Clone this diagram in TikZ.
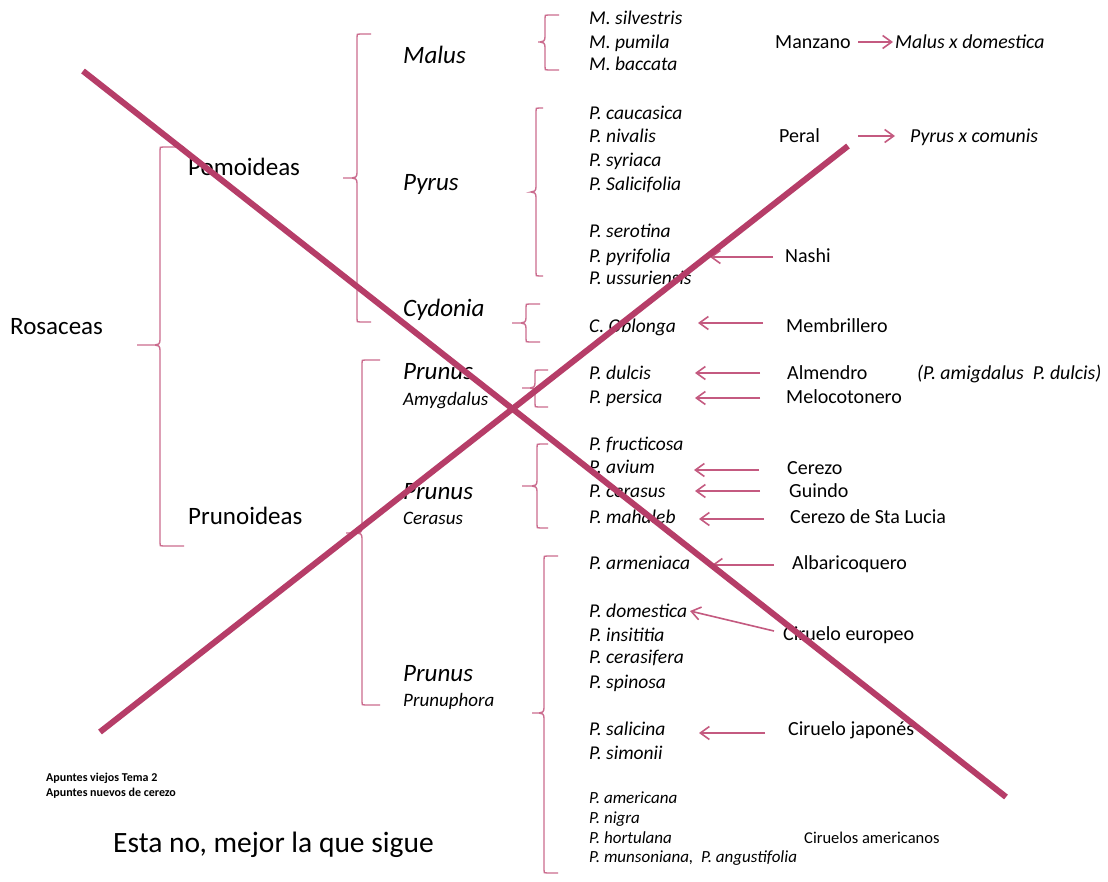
\documentclass[tikz,border=0pt]{standalone}
\usepackage{fontspec}
\setmainfont{Carlito}
\usetikzlibrary{arrows.meta}
\definecolor{xcol}{HTML}{B63D68}
\definecolor{bcol}{HTML}{CB6C8E}
\definecolor{acol}{HTML}{C45A80}
\newcommand{\mybrace}[6]{% X, top, tip y, bottom, tip depth, end length
  \draw[bracestyle] (#1+#6,#2) -- (#1+3,#2) .. controls (#1,#2) .. (#1,#2+3)
    -- (#1,#3-5) .. controls (#1,#3-1) and (#1-2,#3) .. (#1-5,#3) -- (#1-#5,#3)
    (#1-5,#3) .. controls (#1-2,#3) and (#1,#3+1) .. (#1,#3+5)
    -- (#1,#4-3) .. controls (#1,#4) .. (#1+3,#4) -- (#1+#6,#4);}
\tikzset{
  every node/.style={inner sep=0pt, anchor=west, text height=0pt, text depth=0pt},
  sub/.style={font=\fontsize{25}{30}\selectfont, yshift=-8pt},
  gen/.style={font=\fontsize{25}{30}\selectfont\itshape, yshift=-8pt},
  subgen/.style={font=\fontsize{19}{23}\selectfont\itshape, yshift=-6pt},
  sp/.style={font=\fontsize{19.5}{23}\selectfont\itshape, yshift=-6.3pt},
  spsmall/.style={font=\fontsize{17}{20}\selectfont\itshape, yshift=-5.5pt},
  vern/.style={font=\fontsize{20}{24}\selectfont, yshift=-6.5pt},
  vernit/.style={font=\fontsize{19.8}{24}\selectfont\itshape, yshift=-6.4pt},
  vernsmall/.style={font=\fontsize{16.5}{20}\selectfont, yshift=-5.3pt},
  note/.style={font=\fontsize{12}{14}\selectfont\bfseries, yshift=-4pt},
  big/.style={font=\fontsize{29.5}{34}\selectfont, yshift=-9.5pt},
  bracestyle/.style={draw=bcol, line width=1.4pt},
  arr/.style={draw=acol, line width=1.6pt, -{Straight Barb[length=9pt,width=13pt,line width=1.6pt]}},
  cross/.style={draw=xcol, line width=6pt}
}
\begin{document}
\begin{tikzpicture}[x=1pt,y=-1pt]
\useasboundingbox (0,0) rectangle (1108,882);
\fill[white] (0,0) rectangle (1108,882);

% ---- level labels
\node[sub] (ros) at (10,327) {Rosaceas};
\node[sub] (pom) at (188,168) {Pomoideas};
\node[sub] (pru) at (188,516) {Prunoideas};

\node[gen] (malus) at (403,56) {Malus};
\node[gen] (pyrus) at (403,183) {Pyrus};
\node[gen] (cyd) at (403,309) {Cydonia};
\node[gen] (prA) at (403,372) {Prunus};
\node[subgen] (amy) at (403,399) {Amygdalus};
\node[gen] (prC) at (403,491) {Prunus};
\node[subgen] (cers) at (403,518) {Cerasus};
\node[gen] (prP) at (403,673) {Prunus};
\node[subgen] (prph) at (403,700) {Prunuphora};

% ---- species
\node[sp] (msil) at (589,18) {M. silvestris};
\node[sp] (mpum) at (589,42) {M. pumila};
\node[sp] (mbac) at (589,64) {M. baccata};
\node[sp] (pcau) at (589,113) {P. caucasica};
\node[sp] (pniv) at (589,136) {P. nivalis};
\node[sp] (psyr) at (589,160) {P. syriaca};
\node[sp] (psal) at (589,184) {P. Salicifolia};
\node[sp] (pser) at (589,231) {P. serotina};
\node[sp] (ppyr) at (589,256) {P. pyrifolia};
\node[sp] (puss) at (589,278) {P. ussuriensis};
\node[sp] (cobl) at (589,326) {C. Oblonga};
\node[sp] (pdul) at (589,373) {P. dulcis};
\node[sp] (pper) at (589,397) {P. persica};
\node[sp] (pfru) at (589,444) {P. fructicosa};
\node[sp] (pavi) at (589,467) {P. avium};
\node[sp] (pcer) at (589,491) {P. cerasus};
\node[sp] (pmah) at (589,517) {P. mahaleb};
\node[sp] (parm) at (589,563) {P. armeniaca};
\node[sp] (pdom) at (589,611) {P. domestica};
\node[sp] (pins) at (589,635) {P. insititia};
\node[sp] (pcsf) at (589,657) {P. cerasifera};
\node[sp] (pspi) at (589,682) {P. spinosa};
\node[sp] (psli) at (589,729) {P. salicina};
\node[sp] (psim) at (589,753) {P. simonii};
\node[spsmall] (pame) at (589,798) {P. americana};
\node[spsmall] (pnig) at (589,818) {P. nigra};
\node[spsmall] (phor) at (589,838) {P. hortulana};
\node[spsmall] (pmun) at (589,857) {P. munsoniana,\ \ P. angustifolia};

% ---- vernacular names
\node[vern] (manz) at (775,42) {Manzano};
\node[vernit] (mdom) at (895,42) {Malus x domestica};
\node[vern] (peral) at (779,136) {Peral};
\node[vernit] (pcom) at (910,136) {Pyrus x comunis};
\node[vern] (nashi) at (785,256) {Nashi};
\node[vern] (membr) at (786,326) {Membrillero};
\node[vern] (almen) at (787,373) {Almendro};
\node[vernit] (amig) at (917,373) {(P. amigdalus\ \ P. dulcis)};
\node[vern] (meloc) at (786,397) {Melocotonero};
\node[vern] (cerez) at (787,468) {Cerezo};
\node[vern] (guind) at (789,491) {Guindo};
\node[vern] (stal) at (790,517) {Cerezo de Sta Lucia};
\node[vern] (albar) at (792,563) {Albaricoquero};
\node[vern] (cieu) at (783,634) {Ciruelo europeo};
\node[vern] (cija) at (788,729) {Ciruelo japonés};
\node[vernsmall] (ciam) at (804,838) {Ciruelos americanos};

% ---- notes
\node[note] (n1) at (46,777) {Apuntes viejos Tema 2};
\node[note] (n2) at (46,792) {Apuntes nuevos de cerezo};
\node[big] (esta) at (113,843) {Esta no, mejor la que sigue};

% ---- braces
\mybrace{160}{147}{345}{546}{23}{24}
\mybrace{357}{34}{178}{322}{14}{14}
\mybrace{362}{360}{533}{705}{16}{18}
\mybrace{545}{15}{42}{70}{7}{14}
\mybrace{536}{108}{192}{276}{4}{7}
\mybrace{526}{304}{323}{342}{14}{14}
\mybrace{535}{370}{388}{407}{13}{13}
\mybrace{537}{444}{486}{528}{15}{11}
\mybrace{544}{556}{713}{873}{12}{14}

% ---- arrow end points
\coordinate (a1s) at (858,42);  \coordinate (a1e) at (893,42);
\coordinate (a2s) at (858,136); \coordinate (a2e) at (895,136);
\coordinate (a3s) at (773,257); \coordinate (a3e) at (710,257);
\coordinate (a4s) at (763,323); \coordinate (a4e) at (698,323);
\coordinate (a5s) at (760,373); \coordinate (a5e) at (695,373);
\coordinate (a6s) at (760,398); \coordinate (a6e) at (695,398);
\coordinate (a7s) at (759,470); \coordinate (a7e) at (694,470);
\coordinate (a8s) at (760,491); \coordinate (a8e) at (695,491);
\coordinate (a9s) at (764,519); \coordinate (a9e) at (699,519);
\coordinate (a10s) at (774,565); \coordinate (a10e) at (712,565);
\coordinate (a11s) at (774,631); \coordinate (a11e) at (690,611);
\coordinate (a12s) at (765,733); \coordinate (a12e) at (699,733);
\foreach \i in {1,...,12} {\draw[arr] (a\i s) -- (a\i e);}

% ---- big cross
\coordinate (x1s) at (83,71);  \coordinate (x1e) at (1006,797);
\coordinate (x2s) at (100,732); \coordinate (x2e) at (848,146);
\draw[cross] (x1s) -- (x1e);
\draw[cross] (x2s) -- (x2e);
\end{tikzpicture}
\end{document}
